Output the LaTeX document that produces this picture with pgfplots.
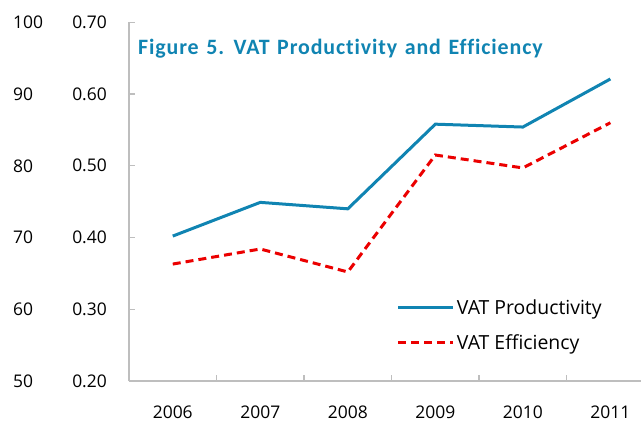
\documentclass[border=0pt]{standalone}
\usepackage{pgfplots}
\pgfplotsset{compat=1.18}
\usepackage{fontspec}
\setmainfont{Open Sans}
\newfontfamily\titlefont[LetterSpace=4,WordSpace=1.3,RawFeature={-liga;-clig;-dlig}]{Carlito}
\definecolor{vatblue}{RGB}{16,132,178}
\definecolor{vatred}{RGB}{235,0,0}
\definecolor{axgray}{RGB}{190,190,190}
\begin{document}
\begin{tikzpicture}
\useasboundingbox (-129bp,-42bp) rectangle (512bp,381bp);
\pgfplotsset{common/.style={scale only axis, width=512bp, height=358.7bp, at={(0,0)}, anchor=south west, xmin=-0.5, xmax=5.35}}
\begin{axis}[common, ymin=50, ymax=100, ytick={50,60,70,80,90,100}, hide x axis,
  axis y line*=left, y axis line style={draw=none}, major tick length=0pt,
  /pgf/number format/assume math mode=true,
  yticklabel style={anchor=west, inner xsep=0pt, xshift=-116bp, font=\fontsize{17.5}{20}\selectfont}]
\addplot[vatred, line width=3bp, dash pattern=on 8bp off 5bp] coordinates {(0,66.3) (1,68.4) (2,65.2) (3,81.5) (4,79.7) (5,86.0)};
\end{axis}
\begin{axis}[common, ymin=0.2, ymax=0.7, ytick={0.2,0.3,0.4,0.5,0.6,0.7},
  axis x line*=bottom, axis y line*=left,
  axis line style={axgray, line width=1.5bp},
  tick style={axgray, line width=1.2bp}, tick align=inside, major tick length=6bp,
  xtick={-0.5,0.5,1.5,2.5,3.5,4.5}, xticklabels={2006,2007,2008,2009,2010,2011},
  xticklabel style={xshift=43.75bp, yshift=-21bp, font=\fontsize{17.5}{20}\selectfont},
  /pgf/number format/assume math mode=true,
  yticklabel style={/pgf/number format/.cd, fixed, fixed zerofill, precision=2, /tikz/.cd, anchor=east, inner xsep=0pt, xshift=-22bp, font=\fontsize{17.5}{20}\selectfont},
  legend style={at={(0.523,0.234)}, anchor=north west, draw=none, fill=none, font=\fontsize{19.5}{22}\selectfont, row sep=15bp, inner sep=0pt},
  legend cell align=left,
  legend image code/.code={\draw[#1] (0bp,0bp) -- (55bp,0bp);}]
\addplot[vatblue, line width=3bp] coordinates {(0,0.402) (1,0.449) (2,0.440) (3,0.558) (4,0.554) (5,0.621)};
\addlegendentry{VAT Productivity}
\addlegendimage{vatred, line width=3bp, dash pattern=on 8bp off 5bp}
\addlegendentry{VAT Efficiency}
\node[anchor=west, inner sep=0pt, text=vatblue, font=\titlefont\bfseries\fontsize{22}{24}\selectfont] at (rel axis cs:0.0176,0.927) {Figure 5. VAT Productivity and Efficiency};
\end{axis}
\end{tikzpicture}
\end{document}
